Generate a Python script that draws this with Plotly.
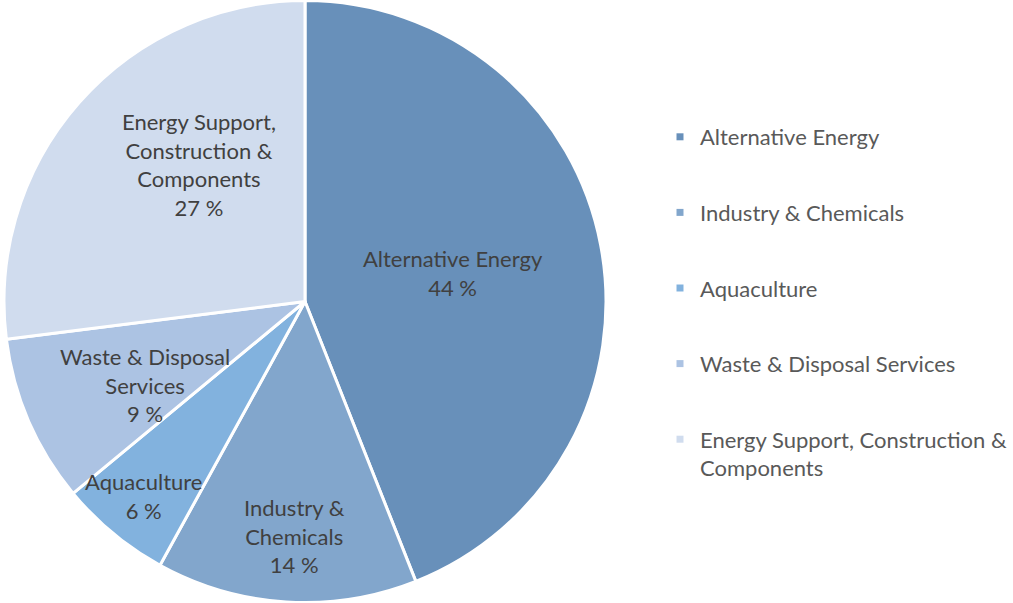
import math
import plotly.graph_objects as go

# Share of activity by segment (percent)
segments = [
    "Alternative Energy",
    "Industry & Chemicals",
    "Aquaculture",
    "Waste & Disposal Services",
    "Energy Support, Construction & Components",
]
shares = [44, 14, 6, 9, 27]

# Label text inside the pie (line-broken versions of the segment names)
slice_labels = [
    "Alternative Energy",
    "Industry &<br>Chemicals",
    "Aquaculture",
    "Waste & Disposal<br>Services",
    "Energy Support,<br>Construction &<br>Components",
]
legend_labels = [
    "Alternative Energy",
    "Industry & Chemicals",
    "Aquaculture",
    "Waste & Disposal Services",
    "Energy Support, Construction &<br>Components",
]

colors = ["#6890ba", "#82a6cc", "#82b2de", "#acc3e3", "#d0dcee"]

# Label placement: fraction of the radius and small angular nudge (degrees)
label_radius = [0.50, 0.78, 0.84, 0.60, 0.575]
label_nudge = [0, -1, 0, -4, 11]

W, H = 1013, 603
FONT = "Lato"
FSIZE = 22

fig = go.Figure()

x0, x1 = 4 / W, 606 / W
fig.add_trace(go.Pie(
    labels=segments,
    values=shares,
    sort=False,
    direction="clockwise",
    rotation=0,
    marker=dict(colors=colors, line=dict(color="white", width=3)),
    textinfo="none",
    hoverinfo="label+percent",
    showlegend=False,
    domain=dict(x=[x0, x1], y=[0, 1]),
))

# Legend entries as square markers, one group each so they can be spaced apart
for name, lab, col in zip(segments, legend_labels, colors):
    fig.add_trace(go.Scatter(
        x=[0], y=[0], mode="markers", name=lab, legendgroup=name,
        marker=dict(symbol="square", size=7, color=col),
        hoverinfo="skip", showlegend=True,
    ))

# Slice labels positioned from the cumulative shares
total = sum(shares)
cx = (x0 + x1) / 2 * W
cy = H / 2
R = min((x1 - x0) * W, H) / 2
cum = 0
annotations = []
for lab, v, rf, nd in zip(slice_labels, shares, label_radius, label_nudge):
    mid = (cum + v / 2) / total * 360 + nd
    cum += v
    px = cx + rf * R * math.sin(math.radians(mid))
    py = cy - rf * R * math.cos(math.radians(mid))
    pct = round(v / total * 100)
    annotations.append(dict(
        x=px / W, y=1 - py / H, xref="paper", yref="paper",
        text=f"{lab}<br>{pct} %", showarrow=False,
        font=dict(family=FONT, size=FSIZE, color="#404040"),
        xanchor="center", yanchor="middle", align="center",
    ))

fig.update_layout(
    width=W, height=H,
    margin=dict(l=0, r=0, t=0, b=0),
    paper_bgcolor="white", plot_bgcolor="white",
    xaxis=dict(visible=False, range=[10, 11], domain=[0.99, 1]),
    yaxis=dict(visible=False, range=[10, 11]),
    annotations=annotations,
    legend=dict(
        x=660 / W, y=1 - 116 / H, xanchor="left", yanchor="top",
        font=dict(family=FONT, size=FSIZE, color="#595959"),
        tracegroupgap=44, valign="top", itemwidth=30,
        bgcolor="rgba(0,0,0,0)",
    ),
    font=dict(family=FONT),
)

fig.write_html("out.html")
